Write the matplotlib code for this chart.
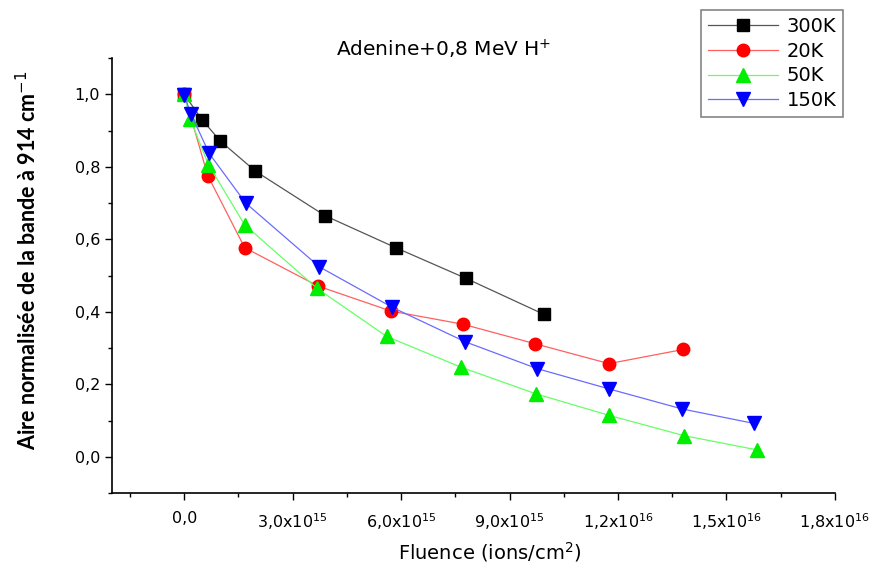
import matplotlib
matplotlib.use("Agg")
import matplotlib.pyplot as plt
from matplotlib.ticker import MultipleLocator

plt.rcParams["font.family"] = ["DejaVu Sans"]
plt.rcParams["mathtext.fontset"] = "dejavusans"

# fluence in units of 1e15 ions/cm2, normalised band area
x_300 = [0.0, 0.5, 1.0, 1.97, 3.9, 5.85, 7.8, 9.95]
y_300 = [1.0, 0.929, 0.871, 0.788, 0.665, 0.577, 0.492, 0.393]

x_20 = [0.0, 0.65, 1.67, 3.7, 5.72, 7.7, 9.7, 11.75, 13.8]
y_20 = [1.0, 0.776, 0.577, 0.471, 0.402, 0.366, 0.312, 0.257, 0.296]

x_50 = [0.0, 0.16, 0.67, 1.67, 3.67, 5.6, 7.66, 9.72, 11.76, 13.84, 15.85]
y_50 = [1.0, 0.933, 0.806, 0.64, 0.465, 0.332, 0.247, 0.174, 0.114, 0.058, 0.019]

x_150 = [0.0, 0.19, 0.69, 1.7, 3.74, 5.76, 7.78, 9.77, 11.76, 13.77, 15.76]
y_150 = [0.997, 0.945, 0.837, 0.70, 0.524, 0.412, 0.317, 0.243, 0.187, 0.132, 0.092]

xticks = [0, 3e15, 6e15, 9e15, 1.2e16, 1.5e16, 1.8e16]
xticklabels = ["0,0", r"3,0x10$^{15}$", r"6,0x10$^{15}$", r"9,0x10$^{15}$",
               r"1,2x10$^{16}$", r"1,5x10$^{16}$", r"1,8x10$^{16}$"]
yticks = [0.0, 0.2, 0.4, 0.6, 0.8, 1.0]
yticklabels = ["0,0", "0,2", "0,4", "0,6", "0,8", "1,0"]

series = [
    ("300K", x_300, y_300, "black", "#555555", "s", 8.5),
    ("20K", x_20, y_20, "red", "#ff6060", "o", 9),
    ("50K", x_50, y_50, "#00ee00", "#66ff66", "^", 9.5),
    ("150K", x_150, y_150, "blue", "#6b6bff", "v", 9.5),
]

fig = plt.figure(figsize=(8.72, 5.67), dpi=100)
ax = fig.add_axes([0.1284, 0.1305, 0.829, 0.767])

for label, xs, ys, mc, lc, m, ms in series:
    ax.plot([v * 1e15 for v in xs], ys, color=lc, lw=0.9, marker=m,
            markersize=ms, markerfacecolor=mc, markeredgecolor=mc, label=label)

ax.set_xlim(-2e15, 1.8e16)
ax.set_ylim(-0.1, 1.1)
ax.set_xticks(xticks)
ax.set_xticklabels(xticklabels)
ax.set_yticks(yticks)
ax.set_yticklabels(yticklabels)
ax.xaxis.set_minor_locator(MultipleLocator(1.5e15))
ax.yaxis.set_minor_locator(MultipleLocator(0.1))
ax.tick_params(axis="both", which="major", direction="out", length=5, width=1,
               labelsize=11.5, colors="black")
ax.tick_params(axis="both", which="minor", direction="out", length=3, width=1)
ax.tick_params(axis="x", pad=8)

for s in ["top", "right"]:
    ax.spines[s].set_visible(False)
for s in ["left", "bottom"]:
    ax.spines[s].set_linewidth(1.2)

fig.text(490 / 872, 1 - 552 / 567, "Fluence (ions/cm$^{2}$)", fontsize=14,
         ha="center", va="center")
fig.text(28 / 872, 1 - 260 / 567, "Aire normalisée de la bande à 914 cm$^{-1}$",
         fontsize=15.5, fontweight="bold", family="Lato", rotation=90,
         ha="center", va="center")
fig.text(444 / 872, 1 - 56 / 567, "Adenine+0,8 MeV H$^{+}$", fontsize=14.5,
         ha="center", va="baseline")

leg = fig.legend(loc="upper right", bbox_to_anchor=(843 / 872, 1 - 10 / 567),
                 fontsize=14, frameon=True, fancybox=False, edgecolor="#666666",
                 handlelength=3.6, handletextpad=0.45, labelspacing=0.3,
                 borderpad=0.35, borderaxespad=0)
leg.get_frame().set_linewidth(1.2)

fig.savefig("out.png", dpi=100)
